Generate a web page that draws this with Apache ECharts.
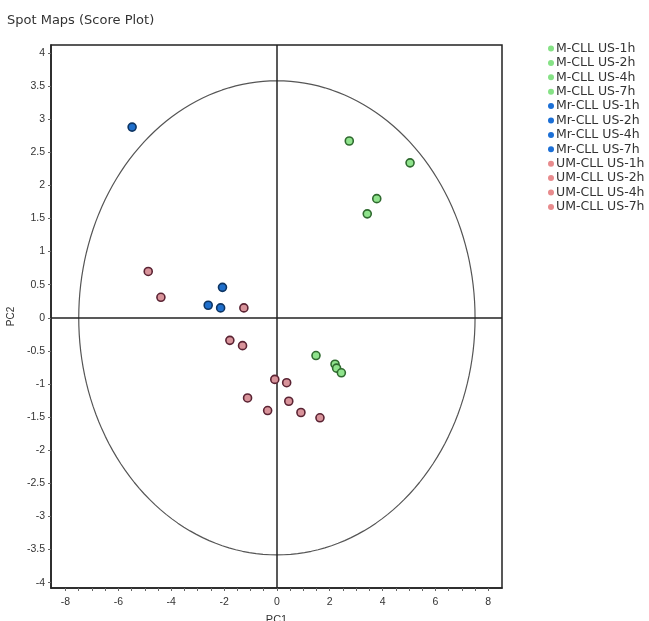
<!DOCTYPE html>
<html><head><meta charset="utf-8">
<script src="https://cdn.jsdelivr.net/npm/echarts@6/dist/echarts.min.js"></script>
<style>html,body{margin:0;padding:0;background:#fff}#c{width:649px;height:621px}</style>
</head><body><div id="c"></div>
<script>
// ---- data ----
const seriesNames = ["M-CLL US-1h","M-CLL US-2h","M-CLL US-4h","M-CLL US-7h",
  "Mr-CLL US-1h","Mr-CLL US-2h","Mr-CLL US-4h","Mr-CLL US-7h",
  "UM-CLL US-1h","UM-CLL US-2h","UM-CLL US-4h","UM-CLL US-7h"];
const mcll1 = [[2.74,2.67],[1.48,-0.57]];
const mcll2 = [[5.04,2.34],[2.20,-0.70]];
const mcll4 = [[3.78,1.80],[2.26,-0.76]];
const mcll7 = [[3.42,1.57],[2.44,-0.83]];
const mr1 = [[-5.48,2.88]];
const mr2 = [[-2.06,0.46]];
const mr4 = [[-2.60,0.19]];
const mr7 = [[-2.13,0.15]];
const um1 = [[-4.87,0.70],[-1.78,-0.34],[-0.35,-1.40]];
const um2 = [[-4.39,0.31],[-1.30,-0.42],[0.91,-1.43]];
const um4 = [[-1.25,0.15],[-0.08,-0.93],[-1.11,-1.21]];
const um7 = [[0.37,-0.98],[0.45,-1.26],[1.63,-1.51]];
const seriesData = [mcll1,mcll2,mcll4,mcll7,mr1,mr2,mr4,mr7,um1,um2,um4,um7];
const xTickLabels = [-8,-6,-4,-2,0,2,4,6,8];
const yTickLabels = [-4,-3.5,-3,-2.5,-2,-1.5,-1,-0.5,0,0.5,1,1.5,2,2.5,3,3.5,4];
const ellipseAxes = [7.5, 3.58]; // Hotelling ellipse semi-axes (PC1, PC2)

// ---- styles ----
const groupStyle = [
  {fill:'#8fe38c', border:'#2f6a2f', legend:'#86e286'},
  {fill:'#1f6fcc', border:'#0e3563', legend:'#1b6fd6'},
  {fill:'#d8939a', border:'#5a2333', legend:'#e88b8d'}
];
const xMinorTicks = []; for (let i=-16;i<=16;i++) xMinorTicks.push(i/2);

const ellipse = [];
for (let i=0;i<=360;i+=2){const t=i*Math.PI/180; ellipse.push([ellipseAxes[0]*Math.cos(t), ellipseAxes[1]*Math.sin(t)]);}

const series = seriesNames.map((n,i)=>{
  const g = groupStyle[Math.floor(i/4)];
  return {name:n,type:'scatter',data:seriesData[i],symbolSize:8,z:5,
    itemStyle:{color:g.fill,borderColor:g.border,borderWidth:1.6,opacity:1}};
});
series.push({type:'line',name:'ellipse',data:ellipse,showSymbol:false,silent:true,z:2,
  lineStyle:{color:'#555',width:1.2},
  markLine:{silent:true,symbol:'none',label:{show:false},lineStyle:{color:'#222',width:1.5,type:'solid'},
    data:[{xAxis:0},{yAxis:0}]}});

const chart = echarts.init(document.getElementById('c'),null,{renderer:'canvas'});
chart.setOption({
  animation:false,
  backgroundColor:'#fff',
  title:{text:'Spot Maps (Score Plot)',left:2,top:9,textStyle:{fontFamily:'DejaVu Sans',fontSize:13,fontWeight:'normal',color:'#333'}},
  legend:{orient:'vertical',left:543,top:37,itemWidth:6,itemHeight:6,itemGap:1.4,icon:'circle',
    data:seriesNames.map((n,i)=>({name:n,itemStyle:{color:groupStyle[Math.floor(i/4)].legend,borderWidth:0}})),
    textStyle:{fontFamily:'DejaVu Sans',fontSize:12.5,color:'#333',padding:[0,0,0,-3],lineHeight:13}},
  grid:{left:51,right:147,top:45,bottom:33,show:true,borderColor:'#222',borderWidth:1.5,outerBoundsMode:'none',containLabel:false},
  xAxis:{type:'value',min:-8.55,max:8.52,name:'PC1',nameLocation:'middle',nameGap:26,
    nameTextStyle:{fontFamily:'Liberation Sans',fontSize:11,color:'#333'},
    axisLine:{onZero:false,lineStyle:{color:'#222',width:1.5}},
    axisTick:{show:true,customValues:xMinorTicks,length:3,lineStyle:{color:'#666'}},
    axisLabel:{customValues:xTickLabels,fontFamily:'Liberation Sans',fontSize:10.5,color:'#333',margin:9},
    splitLine:{show:false}},
  yAxis:{type:'value',min:-4.08,max:4.12,name:'PC2',nameLocation:'middle',nameGap:31,nameRotate:90,
    nameTextStyle:{fontFamily:'Liberation Sans',fontSize:10,color:'#333'},
    axisLine:{onZero:false,lineStyle:{color:'#222',width:1.5}},
    axisTick:{show:true,customValues:yTickLabels,length:3,lineStyle:{color:'#666'}},
    axisLabel:{customValues:yTickLabels,fontFamily:'Liberation Sans',fontSize:10.5,color:'#333',margin:6},
    splitLine:{show:false}},
  series:series
});
</script></body></html>
